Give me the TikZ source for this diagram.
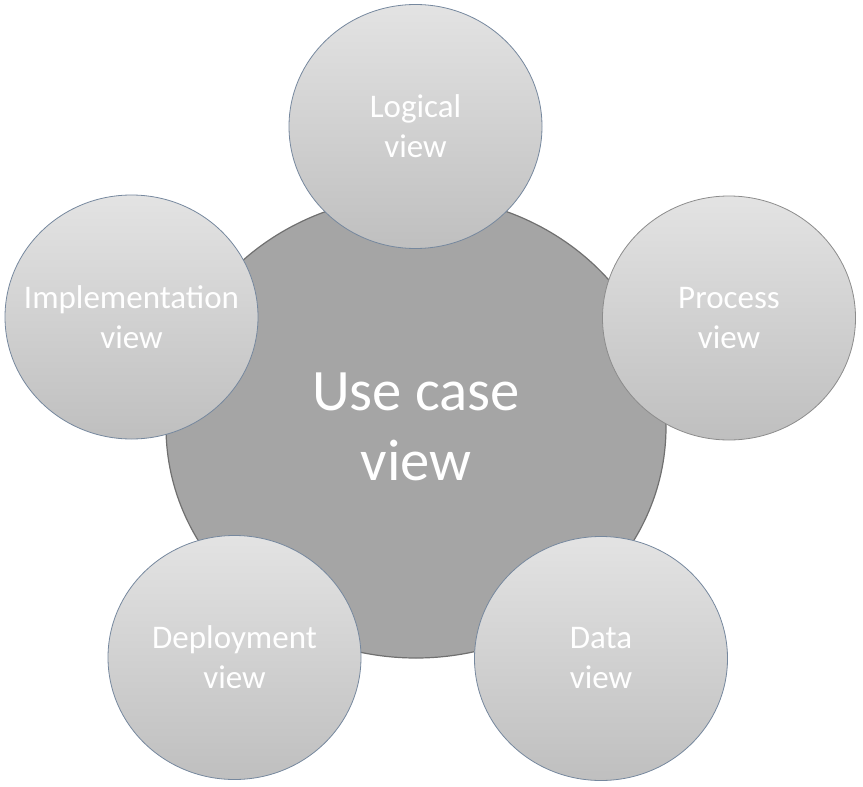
\documentclass[tikz,border=0pt]{standalone}
\usepackage{fontspec}
\usetikzlibrary{shapes.geometric}
\setmainfont{Carlito}
\definecolor{hubfill}{HTML}{A5A5A5}
\definecolor{hubline}{HTML}{707070}
\definecolor{topfill}{HTML}{E3E3E3}
\definecolor{botfill}{HTML}{BFBFBF}
\definecolor{satline}{HTML}{76889E}
\definecolor{grayline}{HTML}{8C8C8C}
\tikzset{
  hub/.style={ellipse, draw=hubline, line width=1.2pt, fill=hubfill, minimum width=500pt, minimum height=462pt, inner sep=0pt,
    text=white, align=center, font=\fontsize{58.7}{70}\selectfont},
  sattext/.style={text=white, align=center, inner sep=0pt, font=\fontsize{33}{40}\selectfont},
  sat/.style={ellipse, draw=satline, line width=0.8pt, top color=topfill, bottom color=botfill,
    minimum width=253pt, minimum height=244pt, inner sep=0pt,
    label={[sattext]center:#1}}
}
\begin{document}
\begin{tikzpicture}[x=1pt,y=-1pt]
\useasboundingbox (0,0) rectangle (863,787);
\node[hub] (usecase) at (416,427) {Use case\\view};
\node[sat={Logical\\view}] (logical) at (415.5,126.5) {};
\node[sat={Process\\view}, draw=grayline] (process) at (729,318) {};
\node[sat={Implementation\\view}] (impl) at (131.5,317) {};
\node[sat={Deployment\\view}] (deploy) at (234.5,657.5) {};
\node[sat={Data\\view}] (data) at (601,658.5) {};
\end{tikzpicture}
\end{document}
